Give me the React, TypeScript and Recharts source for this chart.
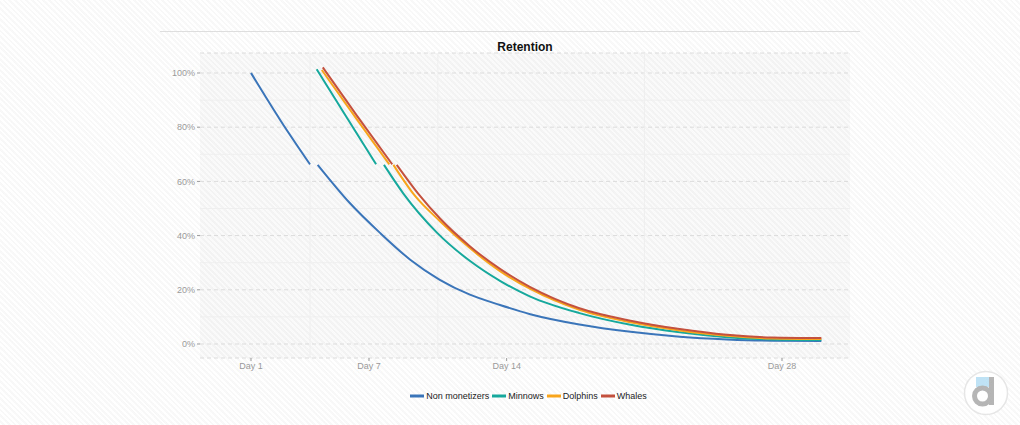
import React from "react";
import {
  LineChart,
  Line,
  XAxis,
  YAxis,
  CartesianGrid,
  Legend,
  ReferenceLine,
} from "recharts";

// x positions (days) and retention (%); null = break in the line
const nonMonetizerDays = [1, 2.5, 4.0, 4.2, 4.39, 6.0, 7.56, 9.08, 10.6, 12.1, 13.66, 15.2, 17.7, 20.3, 22.8, 25.2, 27.5, 30];
const nonMonetizerValues = [100, 82.5, 66.3, null, 66.1, 52.2, 41.0, 31.2, 23.7, 18.3, 14.4, 11.0, 7.2, 4.5, 2.7, 1.7, 1.2, 1.1];

const minnowDays = [4.34, 5.87, 7.36, 7.56, 7.76, 8.74, 10.44, 12.14, 13.66, 15.2, 17.7, 20.3, 22.8, 25.2, 27.5, 30];
const minnowValues = [101.4, 83.6, 66.3, null, 66.1, 55.6, 41.2, 30.6, 23.3, 17.5, 11.4, 7.1, 4.3, 2.5, 1.7, 1.5];

const dolphinDays = [4.6, 6.31, 8.03, 8.13, 8.24, 9.3, 10.61, 12.14, 13.66, 15.2, 17.7, 20.3, 22.8, 25.2, 27.5, 30];
const dolphinValues = [101.1, 83.6, 66.3, null, 66.1, 55.0, 45.3, 35.3, 26.9, 20.3, 12.6, 8.0, 5.0, 3.0, 2.0, 1.8];

const whaleDays = [4.65, 6.41, 8.18, 8.3, 8.41, 9.51, 10.61, 12.14, 13.66, 15.2, 17.7, 20.3, 22.8, 25.2, 27.5, 30];
const whaleValues = [102.1, 84.0, 66.3, null, 66.1, 55.4, 46.3, 36.0, 27.7, 21.0, 13.2, 8.6, 5.5, 3.4, 2.4, 2.2];

const xTicks = [1, 7, 14, 28];
const xMinorTicks = [4, 10.5, 21];
const yTicks = [0, 20, 40, 60, 80, 100];
const yMinorTicks = [10, 30, 50, 70, 90];

const toPoints = (days: number[], values: (number | null)[]) =>
  days.map((day, i) => ({ day, value: values[i] }));

const series = [
  { name: "Non monetizers", color: "#3b75b9", data: toPoints(nonMonetizerDays, nonMonetizerValues) },
  { name: "Minnows", color: "#16a89c", data: toPoints(minnowDays, minnowValues) },
  { name: "Dolphins", color: "#f8a51c", data: toPoints(dolphinDays, dolphinValues) },
  { name: "Whales", color: "#c4513d", data: toPoints(whaleDays, whaleValues) },
];
const seriesOrder = series.map((s) => s.name);

const renderLegend = (props: any) => {
  const payload = [...(props.payload || [])].sort(
    (a: any, b: any) => seriesOrder.indexOf(a.value) - seriesOrder.indexOf(b.value)
  );
  return (
    <div style={{ display: "flex", justifyContent: "center", fontSize: 9, color: "#222" }}>
      {payload.map((entry: any) => (
        <div key={entry.value} style={{ display: "flex", alignItems: "center", marginRight: 3 }}>
          <svg width={14} height={10} style={{ marginRight: 2 }}>
            <line x1={0} y1={5} x2={14} y2={5} stroke={entry.color} strokeWidth={3} />
          </svg>
          <span>{entry.value}</span>
        </div>
      ))}
    </div>
  );
};

export default function App() {
  return (
    <div
      style={{
        position: "absolute",
        left: 0,
        top: 0,
        width: 1020,
        height: 425,
        overflow: "hidden",
        fontFamily: "'Liberation Sans', Arial, sans-serif",
        background:
          "repeating-linear-gradient(45deg, #ffffff 0px, #ffffff 2px, #f8f8f8 2px, #f8f8f8 4px)",
      }}
    >
      <div style={{ position: "absolute", left: 160, top: 31, width: 700, height: 1, background: "#dedede" }} />
      <div
        style={{
          position: "absolute",
          left: 200,
          top: 40,
          width: 650,
          textAlign: "center",
          fontSize: 12,
          fontWeight: "bold",
          color: "#111",
        }}
      >
        Retention
      </div>
      <LineChart width={1020} height={425} margin={{ top: 53, right: 170, left: 160, bottom: 42 }}>
        <CartesianGrid vertical={false} strokeDasharray="4 3" stroke="#dcdcdc" fill="rgba(0,0,0,0.018)" />
        {xMinorTicks.map((x) => (
          <ReferenceLine key={"x" + x} x={x} stroke="#efefef" strokeWidth={1} />
        ))}
        {yMinorTicks.map((y) => (
          <ReferenceLine key={"y" + y} y={y} stroke="#efefef" strokeWidth={1} />
        ))}
        <XAxis
          type="number"
          dataKey="day"
          domain={[-1.593, 31.457]}
          ticks={xTicks}
          allowDataOverflow
          tickFormatter={(v) => `Day ${v}`}
          axisLine={false}
          tickLine={{ stroke: "#999" }}
          tickSize={3}
          tickMargin={2}
          height={25}
          tick={{ fill: "#9a9a9a", fontSize: 9 }}
        />
        <YAxis
          type="number"
          domain={[-5.17, 107.38]}
          ticks={yTicks}
          allowDataOverflow
          tickFormatter={(v) => `${v}%`}
          axisLine={false}
          tickLine={{ stroke: "#999" }}
          tickSize={3}
          tickMargin={2}
          width={40}
          tick={{ fill: "#9a9a9a", fontSize: 9 }}
        />
        <Legend
          verticalAlign="middle"
          align="center"
          layout="horizontal"
          content={renderLegend}
          wrapperStyle={{ top: 391, left: 20, width: 1020 }}
        />
        {series.map((s) => (
          <Line
            key={s.name}
            name={s.name}
            data={s.data}
            dataKey="value"
            type="monotone"
            stroke={s.color}
            strokeWidth={2}
            dot={false}
            activeDot={false}
            connectNulls={false}
            isAnimationActive={false}
          />
        ))}
      </LineChart>
      <svg style={{ position: "absolute", left: 960, top: 368 }} width={52} height={52}>
        <circle cx={26} cy={25} r={21.5} fill="#fff" stroke="#e6e6e6" strokeWidth={1.5} />
        <rect x={16} y={9} width={14} height={10} fill="#bfe3f5" />
        <circle cx={22.5} cy={28} r={8} fill="none" stroke="#b5b5b5" strokeWidth={5} />
        <rect x={29} y={9} width={5} height={28} fill="#b5b5b5" />
      </svg>
    </div>
  );
}
